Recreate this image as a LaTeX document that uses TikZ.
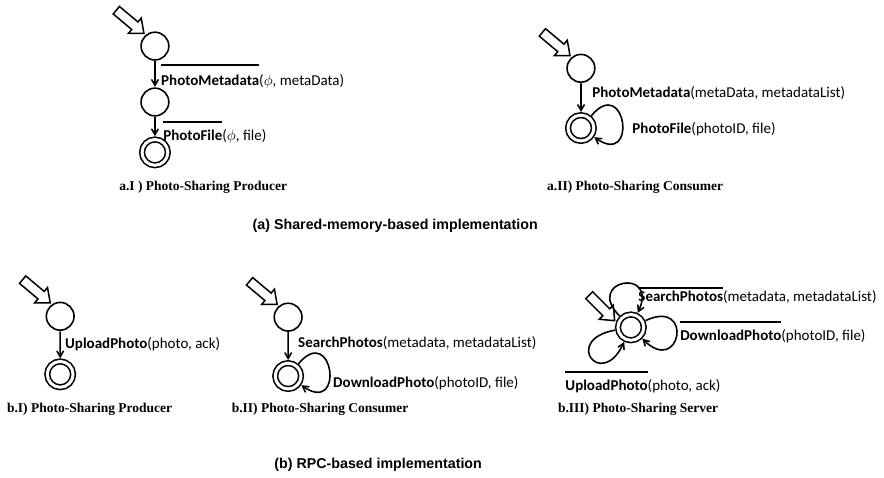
\documentclass[tikz,border=0pt]{standalone}
\usepackage{fontspec}
\usepackage{tikz}
\usetikzlibrary{shapes.arrows, arrows}
\setmainfont{Carlito}
\newfontfamily\capfont{Liberation Serif}
\newfontfamily\titlefont{Liberation Sans}
\tikzstyle{state} = [circle,draw,line width=1.6pt,minimum size=18.5pt,inner sep=0pt]
\tikzstyle{final} = [state,double,double distance=3pt,minimum size=17.2pt,outer sep=2.1pt]
\tikzstyle{trans} = [line width=1.6pt,->,>=angle 60]
\tikzstyle{initarrow} = [single arrow,draw,fill=white,line width=1.5pt,minimum height=24pt,single arrow head extend=3.4pt,single arrow tip angle=80,inner sep=0pt,anchor=tip]
\tikzstyle{msg} = [anchor=base west,inner sep=0pt,font=\fontsize{10}{12}\selectfont]
\tikzstyle{subcap} = [font=\capfont\bfseries\fontsize{9}{11}\selectfont]
\tikzstyle{figcap} = [font=\titlefont\bfseries\fontsize{9.5}{11}\selectfont]
\newsavebox\msgbox
\newcommand{\outmsg}[2][1.15em]{\sbox\msgbox{\bfseries #2}\rlap{\rule[#1]{\wd\msgbox}{1pt}}\usebox\msgbox}
\newcommand{\shaft}{\rule{0pt}{5pt}}

\begin{document}
\begin{tikzpicture}[scale=1.5, every node/.style={transform shape}]
    \useasboundingbox (0,0) rectangle (20.71,11.18);

    % a.I) producer
    \node[state] (p1) at (3.63,10.10) {};
    \node[state] (p2) at (3.63,8.79) {};
    \node[final] (p3) at (3.63,7.61) {};
    \node[initarrow,rotate=-40] (p0) at (p1.130) {\shaft};
    \draw[trans] (p1) -- (p2);
    \draw[trans] (p2) -- (p3);
    \node[msg] (m1) at (3.77,9.18) {\outmsg[1.3em]{PhotoMetadata}($\phi$, metaData)};
    \node[msg] (m2) at (3.82,7.90) {\outmsg{PhotoFile}($\phi$, file)};
    \node[subcap] (c1) at (4.76,6.80) {a.I ) Photo-Sharing Producer};

    % a.II) consumer
    \node[state] (q1) at (13.61,9.58) {};
    \node[final] (q2) at (13.61,8.18) {};
    \node[initarrow,rotate=-40] (q0) at (q1.130) {\shaft};
    \draw[trans] (q1) -- (q2);
    \draw[trans] (q2) to[out=50,in=-35,min distance=36pt] (q2);
    \node[msg] (m3) at (13.87,8.90) {\textbf{PhotoMetadata}(metaData, metadataList)};
    \node[msg] (m4) at (14.81,8.06) {\textbf{PhotoFile}(photoID, file)};
    \node[subcap] (c2) at (14.88,6.80) {a.II) Photo-Sharing Consumer};

    \node[figcap] (ta) at (9.26,5.90) {(a) Shared-memory-based implementation};

    % b.I) producer
    \node[state] (r1) at (1.41,3.77) {};
    \node[final] (r2) at (1.41,2.41) {};
    \node[initarrow,rotate=-40] (r0) at (r1.125) {\shaft};
    \draw[trans] (r1) -- (r2);
    \node[msg] (m5) at (1.52,3.02) {\textbf{UploadPhoto}(photo, ack)};
    \node[subcap] (c3) at (2.10,1.59) {b.I) Photo-Sharing Producer};

    % b.II) consumer
    \node[state] (t1) at (6.75,3.75) {};
    \node[final] (t2) at (6.75,2.37) {};
    \node[initarrow,rotate=-40] (t0) at (t1.130) {\shaft};
    \draw[trans] (t1) -- (t2);
    \draw[trans] (t2) to[out=50,in=-35,min distance=36pt] (t2);
    \node[msg] (m6) at (6.98,3.05) {\textbf{SearchPhotos}(metadata, metadataList)};
    \node[msg] (m7) at (7.80,2.11) {\textbf{DownloadPhoto}(photoID, file)};
    \node[subcap] (c4) at (7.50,1.59) {b.II) Photo-Sharing Consumer};

    % b.III) server
    \node[final] (u1) at (14.78,3.51) {};
    \node[initarrow,rotate=-45] (u0) at (u1.160) {\shaft};
    \draw[trans] (u1) to[out=135,in=65,min distance=34pt] (u1);
    \draw[trans] (u1) to[out=25,in=-45,min distance=36pt] (u1);
    \draw[trans] (u1) to[out=190,in=-115,min distance=36pt] (u1);
    \node[msg] (m8) at (14.95,4.12) {\outmsg[0.85em]{SearchPhotos}(metadata, metadataList)};
    \node[msg] (m9) at (15.93,3.21) {\outmsg{DownloadPhoto}(photoID, file)};
    \node[msg] (m10) at (13.24,2.04) {\outmsg{UploadPhoto}(photo, ack)};
    \node[subcap] (c5) at (14.95,1.59) {b.III) Photo-Sharing Server};

    \node[figcap] (tb) at (8.86,0.28) {(b) RPC-based implementation};
\end{tikzpicture}
\end{document}
